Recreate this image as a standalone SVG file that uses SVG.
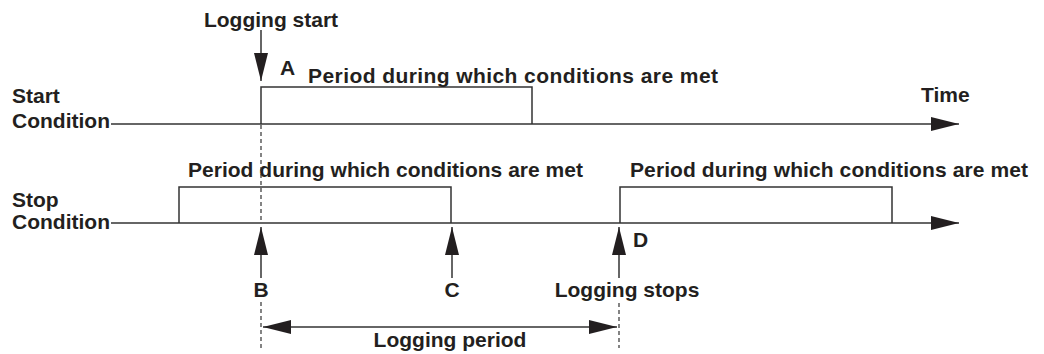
<svg xmlns="http://www.w3.org/2000/svg" width="1044" height="354" viewBox="0 0 1044 354">
<defs>
<style>
text{font-family:"Liberation Sans",Arial,sans-serif;font-weight:bold;font-size:21px;fill:#231f20}
.ln{stroke:#333;stroke-width:1.5;fill:none}
.dash{stroke:#333;stroke-width:1.2;fill:none;stroke-dasharray:4 3}
.mid{text-anchor:middle}
</style>
<marker id="ah" markerUnits="userSpaceOnUse" viewBox="0 0 28 14" refX="28" refY="7" markerWidth="28" markerHeight="14" orient="auto-start-reverse">
<path d="M0,0 L28,7 L0,14 z" fill="#231f20"/>
</marker>
</defs>
<rect width="1044" height="354" fill="#fff"/>
<g id="start-condition">
<text x="12" y="103">Start</text>
<text x="12" y="128">Condition</text>
<polyline class="ln" points="261,124 261,87 532,87 532,124"/>
<text x="280" y="75">A</text>
<text x="308" y="83" textLength="410">Period during which conditions are met</text>
<text x="921" y="102">Time</text>
</g>
<g id="stop-condition">
<text x="12" y="207">Stop</text>
<text x="12" y="229">Condition</text>
<polyline class="ln" points="179,223 179,187 451,187 451,223"/>
<text x="188" y="177" textLength="395">Period during which conditions are met</text>
<polyline class="ln" points="620,223 620,187 892,187 892,223"/>
<text x="630" y="177" textLength="398">Period during which conditions are met</text>
</g>
<g id="labels">
<text class="mid" x="271" y="27">Logging start</text>
<text class="mid" x="261" y="297">B</text>
<text class="mid" x="452" y="297">C</text>
<text x="633" y="247">D</text>
<text class="mid" x="627" y="297">Logging stops</text>
<text class="mid" x="450" y="347">Logging period</text>
</g>
<g id="connectors">
<line class="ln" x1="111" y1="124" x2="959" y2="124" marker-end="url(#ah)"/>
<line class="ln" x1="111" y1="223" x2="959" y2="223" marker-end="url(#ah)"/>
<line class="ln" x1="261" y1="30" x2="261" y2="81" marker-end="url(#ah)"/>
<line class="ln" x1="261" y1="278" x2="261" y2="227" marker-end="url(#ah)"/>
<line class="ln" x1="452" y1="278" x2="452" y2="227" marker-end="url(#ah)"/>
<line class="ln" x1="619" y1="278" x2="619" y2="227" marker-end="url(#ah)"/>
<line class="ln" x1="263" y1="327" x2="617" y2="327" marker-start="url(#ah)" marker-end="url(#ah)"/>
<line class="dash" x1="261" y1="125" x2="261" y2="223"/>
<line class="dash" x1="261" y1="302" x2="261" y2="348"/>
<line class="dash" x1="619" y1="303" x2="619" y2="348"/>
</g>
</svg>
